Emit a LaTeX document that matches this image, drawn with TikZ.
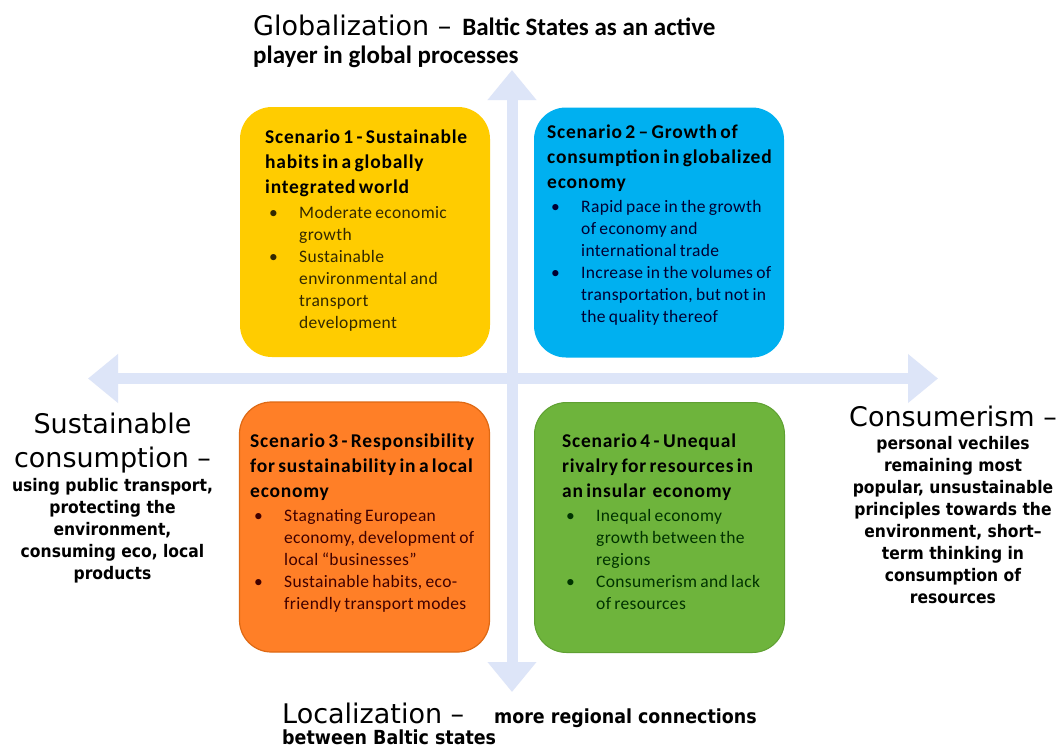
\documentclass[tikz,border=0pt]{standalone}
\usepackage{fontspec}
\setmainfont{Carlito}
\newfontfamily\titlefont[LetterSpace=4]{Carlito}
\newfontfamily\itemfont[LetterSpace=2]{Carlito}
\newfontfamily\axisfont{DejaVu Sans}
\newfontfamily\notefont[FakeStretch=0.9]{DejaVu Sans}
\usetikzlibrary{arrows.meta,positioning}

\definecolor{axisblue}{RGB}{221,229,248}
\definecolor{scenyellow}{RGB}{255,204,0}
\definecolor{scencyan}{RGB}{0,176,240}
\definecolor{scenorange}{RGB}{255,127,39}
\definecolor{scenorangeline}{RGB}{222,105,20}
\definecolor{scengreen}{RGB}{110,180,60}
\definecolor{scengreenline}{RGB}{95,160,50}

\newcommand{\sctitle}{\titlefont\bfseries\fontsize{19.5}{25}\selectfont}
\newcommand{\scitems}{\itemfont\fontsize{17.5}{22}\selectfont}
\newcommand{\bul}{\hspace*{4pt}\makebox[30pt][l]{\textbullet}}
\newcommand{\ind}{\hspace*{34pt}}
\newcommand{\axisword}{\axisfont\fontsize{27}{30}\selectfont}
\newcommand{\axisnote}{\bfseries\fontsize{25}{28}\selectfont}
\newcommand{\locnote}{\notefont\bfseries\fontsize{19.4}{20}\selectfont}

\begin{document}
\begin{tikzpicture}[x=1pt,y=-1pt,
            scenario/.style={rectangle,rounded corners=32pt,minimum width=250pt,minimum height=250pt,inner sep=0pt},
            scentext/.style={anchor=base west,inner sep=0pt,text width=240pt,align=left},
            lab/.style={inner sep=0pt},
            side/.style={lab,anchor=base,align=center,font=\notefont\bfseries\fontsize{17.3}{22}\selectfont},
            axis/.style={draw=axisblue,line width=11pt,
              {Triangle[length=30pt 0 1,width=47pt 0 1]}-{Triangle[length=30pt 0 1,width=47pt 0 1]}}
          ]
          \useasboundingbox[fill=white] (0,0) rectangle (1061,753);

          %axes
          \coordinate (globtip) at (512,70);
          \coordinate (loctip) at (512,692);
          \coordinate (susttip) at (88,378.5);
          \coordinate (constip) at (938,378.5);
          \draw[axis] (susttip) -- (constip);
          \draw[axis] (globtip) -- (loctip);

          %scenarios
          \node[scenario,fill=scenyellow] (scen1) at (365,232) {};
          \node[scenario,fill=scencyan] (scen2) at (659,232.5) {};
          \node[scenario,fill=scenorange,draw=scenorangeline,line width=1.2pt] (scen3) at (364.5,527) {};
          \node[scenario,fill=scengreen,draw=scengreenline,line width=1pt] (scen4) at (659.5,527.5) {};

          \node[scentext] (txt1) at (265,143) {%
            {\sctitle Scenario 1 - Sustainable\\ habits in a globally\\ integrated world\par}\vspace{3pt}
            {\scitems\color{black!80!scenyellow} \bul Moderate economic\\ \ind growth\\ \bul Sustainable\\ \ind environmental and\\ \ind transport\\ \ind development\par}};
          \node[scentext] (txt2) at (547,138) {%
            {\sctitle Scenario 2 – Growth of\\ consumption in globalized\\ economy\par}\vspace{2pt}
            {\scitems\color{black!80!blue} \bul Rapid pace in the growth\\ \ind of economy and\\ \ind international trade\\ \bul Increase in the volumes of\\ \ind transportation, but not in\\ \ind the quality thereof\par}};
          \node[scentext] (txt3) at (250,447) {%
            {\sctitle Scenario 3 - Responsibility\\ for sustainability in a local\\ economy\par}\vspace{2pt}
            {\scitems\color{black!75!red} \bul Stagnating European\\ \ind economy, development of\\ \ind local “businesses”\\ \bul Sustainable habits, eco-\\ \ind friendly transport modes\par}};
          \node[scentext] (txt4) at (562,447) {%
            {\sctitle Scenario 4 - Unequal\\ rivalry for resources in\\ an insular\ \ economy\par}\vspace{2pt}
            {\scitems\color{black!80!green} \bul Inequal economy\\ \ind growth between the\\ \ind regions\\ \bul Consumerism and lack\\ \ind of resources\par}};

          %labels
          \node[lab,anchor=base west] (glob) at (253,35) {{\axisword Globalization –}\hspace{11pt}{\axisnote Baltic States as an active}};
          \node[lab,anchor=base west] (globb) at (253,63) {\axisnote player in global processes};
          \node[lab,anchor=base west] (loc) at (282,723) {{\axisword Localization –}\hspace{30pt}{\locnote more regional connections}};
          \node[lab,anchor=base west] (locb) at (282,744) {\locnote between Baltic states};
          \node[lab,anchor=base,font=\axisword] (sust) at (112.5,433) {Sustainable};
          \node[lab,anchor=base,font=\axisword] (sustb) at (112.5,467) {consumption –};
          \node[side] (sustc) at (112.5,579) {using public transport,\\protecting the\\environment,\\consuming eco, local\\products};
          \node[lab,anchor=base,font=\axisword] (cons) at (953,426) {Consumerism –};
          \node[side] (consb) at (953,603) {personal vechiles\\remaining most\\popular, unsustainable\\principles towards the\\environment, short–\\term thinking in\\consumption of\\resources};

      \end{tikzpicture}
\end{document}
